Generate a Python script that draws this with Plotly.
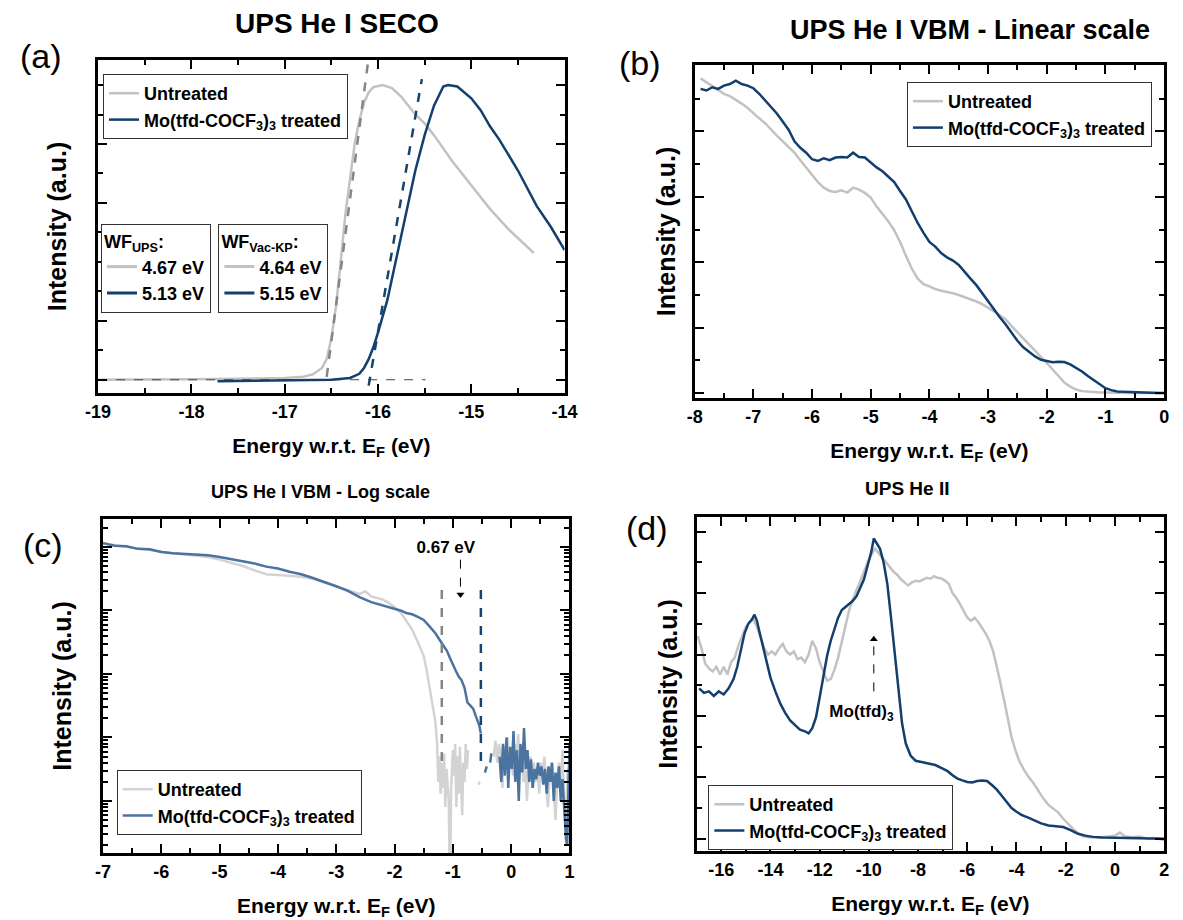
import plotly.graph_objects as go

# ---------------------------------------------------------------- data
# (a) UPS He I secondary-electron cut-off, normalised intensity
seco_untreated_e = [-19.0, -18.5, -18.0, -17.5, -17.0, -16.8, -16.7, -16.6, -16.55, -16.5, -16.45,
                    -16.4, -16.35, -16.3, -16.25, -16.2, -16.15, -16.1, -16.05, -15.95, -15.85,
                    -15.75, -15.6, -15.5, -15.4, -15.2, -15.0, -14.8, -14.6, -14.45, -14.33]
seco_untreated_i = [0.0, 0.0, 0.002, 0.003, 0.006, 0.01, 0.018, 0.04, 0.07, 0.14, 0.25,
                    0.4, 0.56, 0.68, 0.8, 0.88, 0.94, 0.975, 0.993, 1.0, 0.99,
                    0.96, 0.9, 0.87, 0.83, 0.74, 0.66, 0.58, 0.51, 0.465, 0.43]
seco_treated_e = [-17.72, -17.0, -16.5, -16.3, -16.2, -16.15, -16.1, -16.05, -16.0, -15.9, -15.8,
                  -15.7, -15.6, -15.5, -15.4, -15.3, -15.25, -15.15, -15.0, -14.9, -14.8,
                  -14.7, -14.5, -14.3, -14.15, -14.0]
seco_treated_i = [-0.005, -0.003, 0.0, 0.006, 0.02, 0.04, 0.07, 0.11, 0.16, 0.27, 0.42,
                  0.57, 0.71, 0.83, 0.93, 0.995, 1.0, 0.995, 0.955, 0.915, 0.86,
                  0.815, 0.71, 0.59, 0.52, 0.44]
# linear cut-off extrapolations and the zero-intensity baseline
cutoff_untreated_e = [-16.55, -16.11]
cutoff_treated_e = [-16.10, -15.53]
cutoff_untreated_i = [0.01, 1.07]
cutoff_treated_i = [-0.02, 1.02]
baseline_e = [-19.0, -15.49]
baseline_i = [0.0, 0.0]
wf_ups = ["4.67 eV", "5.13 eV"]
wf_kp = ["4.64 eV", "5.15 eV"]

# (b) UPS He I valence band, linear scale
vb_e = [-7.9, -7.8, -7.7, -7.6, -7.5, -7.4, -7.3, -7.2, -7.1, -7.0,
        -6.9, -6.8, -6.7, -6.6, -6.5, -6.4, -6.3, -6.2, -6.1, -6.0,
        -5.9, -5.8, -5.7, -5.6, -5.5, -5.4, -5.3, -5.2, -5.1, -5.0,
        -4.9, -4.8, -4.7, -4.6, -4.5, -4.4, -4.3, -4.2, -4.1, -4.0,
        -3.9, -3.8, -3.7, -3.6, -3.5, -3.4, -3.3, -3.2, -3.1, -3.0,
        -2.9, -2.8, -2.7, -2.6, -2.5, -2.4, -2.3, -2.2, -2.1, -2.0,
        -1.9, -1.8, -1.7, -1.6, -1.5, -1.4, -1.3, -1.2, -1.1, -1.0,
        -0.9, -0.8, -0.7, -0.6, -0.5, -0.4, -0.3, -0.2, -0.1, 0.0]
vb_untreated = [0.962, 0.95, 0.94, 0.928, 0.915, 0.908, 0.897, 0.885, 0.872, 0.855,
                0.84, 0.825, 0.805, 0.787, 0.77, 0.752, 0.735, 0.712, 0.69, 0.665,
                0.645, 0.628, 0.618, 0.615, 0.62, 0.613, 0.628, 0.622, 0.612, 0.598,
                0.57, 0.548, 0.525, 0.498, 0.462, 0.42, 0.38, 0.35, 0.333, 0.326,
                0.318, 0.313, 0.31, 0.305, 0.3, 0.294, 0.287, 0.28, 0.272, 0.262,
                0.25, 0.238, 0.225, 0.205, 0.185, 0.166, 0.148, 0.13, 0.112, 0.092,
                0.072, 0.052, 0.032, 0.02, 0.011, 0.006, 0.004, 0.003, 0.002, 0.002,
                0.001, 0.001, 0.001, 0.0, 0.001, 0.0, 0.0, 0.0, 0.0, 0.0]
vb_treated = [0.93, 0.925, 0.935, 0.93, 0.94, 0.945, 0.955, 0.945, 0.94, 0.932,
              0.915, 0.895, 0.875, 0.855, 0.83, 0.805, 0.77, 0.75, 0.735, 0.715,
              0.71, 0.718, 0.712, 0.72, 0.722, 0.72, 0.735, 0.722, 0.72, 0.705,
              0.69, 0.678, 0.662, 0.645, 0.618, 0.592, 0.556, 0.52, 0.49, 0.462,
              0.448, 0.428, 0.415, 0.405, 0.392, 0.37, 0.35, 0.33, 0.305, 0.28,
              0.255, 0.232, 0.21, 0.183, 0.16, 0.14, 0.125, 0.112, 0.102, 0.097,
              0.094, 0.096, 0.095, 0.088, 0.078, 0.066, 0.052, 0.04, 0.027, 0.015,
              0.009, 0.005, 0.004, 0.003, 0.002, 0.002, 0.001, 0.001, 0.0, 0.0]

# (c) UPS He I valence band edge, log scale (counts)
log_untreated_e = [-7.0, -6.8, -6.6, -6.4, -6.2, -6.0, -5.8, -5.6, -5.4, -5.2, -5.0, -4.8, -4.6,
                   -4.4, -4.2, -4.0, -3.8, -3.6, -3.4, -3.2, -3.0, -2.8, -2.6, -2.5, -2.4, -2.2,
                   -2.1, -2.0, -1.9, -1.8, -1.7, -1.6, -1.5, -1.45, -1.4, -1.35, -1.3,
                   -1.27, -1.25, -1.23, -1.21, -1.19, -1.17, -1.15, -1.13, -1.11, -1.09, -1.07,
                   -1.05, -1.03, -1.0, -0.98, -0.96, -0.94, -0.92, -0.9, -0.88, -0.86, -0.84,
                   -0.82, -0.8, -0.78, -0.76, -0.74, -0.65, -0.56, -0.54, -0.42,
                   -0.3, -0.27, -0.24, -0.21, -0.18, -0.15, -0.12, -0.09, -0.06, -0.03,
                   0.0, 0.03, 0.06, 0.09, 0.12, 0.15, 0.18, 0.21, 0.24, 0.27, 0.3, 0.33,
                   0.36, 0.39, 0.42, 0.45, 0.48, 0.51, 0.54, 0.57, 0.6, 0.63, 0.66, 0.7,
                   0.73, 0.76, 0.79, 0.82, 0.85, 0.88, 0.91, 0.94, 0.97, 1.0]
log_untreated_i = [114800, 107200, 97700, 93300, 89100, 83200, 79400, 75900, 72400, 69200, 63100,
                   56200, 50100, 42700, 37200, 36300, 35500, 33900, 31600, 27500, 24000, 20900,
                   18200, 20000, 16600, 14800, 13200, 11200, 9330, 6920, 5010, 3160, 1910, 1150,
                   631, 355, 178,
                   80, 20, 50, 13, 40, 16, 56, 8, 32, 20, 10,
                   0.3, 16, 63, 25, 79, 8, 50, 13, 71, 16, 6,
                   40, 20, 79, 32, 63, None, 20, 18, None,
                   50, 89, 40, 79, 56, 16, 71, 32, 100, 40,
                   63, 25, 79, 45, 112, 32, 56, 20, 40, 10, 32, 50,
                   16, 40, 20, 35, 13, 40, 25, 50, 16, 8, 25, 40,
                   16, 5, 20, 40, 16, 63, 10, 4, 32, 20]
log_treated_e = [-7.0, -6.8, -6.6, -6.4, -6.2, -6.0, -5.8, -5.6, -5.4, -5.2, -5.0, -4.8, -4.6,
                 -4.4, -4.2, -4.0, -3.8, -3.6, -3.4, -3.2, -3.0, -2.8, -2.6, -2.4, -2.2, -2.1,
                 -2.0, -1.9, -1.8, -1.7, -1.6, -1.5, -1.4, -1.3, -1.2, -1.1, -1.05, -1.0,
                 -0.95, -0.9, -0.85, -0.8, -0.75, -0.7, -0.65, -0.6, -0.55, -0.52,
                 -0.5, -0.45, -0.42, -0.39, -0.36, -0.34, -0.27,
                 -0.2, -0.17, -0.14, -0.11, -0.08, -0.05, -0.02, 0.01, 0.04, 0.07, 0.1,
                 0.13, 0.16, 0.19, 0.22, 0.25, 0.28, 0.31, 0.34, 0.37, 0.4, 0.43, 0.46,
                 0.49, 0.52, 0.55, 0.58, 0.61, 0.64, 0.67, 0.7, 0.73, 0.76, 0.79, 0.82,
                 0.85, 0.88, 0.91, 0.94, 0.96, 0.98, 1.0]
log_treated_i = [114800, 104700, 102300, 93300, 92000, 83200, 79400, 77600, 75900, 74100, 69200,
                 64600, 60300, 55000, 49000, 45700, 40700, 37200, 32400, 28200, 24000, 20400,
                 16200, 13500, 12000, 11500, 10700, 10000, 9120, 8710, 7940, 7080, 5620, 4370,
                 3160, 2290, 1780, 1380, 1120, 912, 794, 603, 355, 316, 282, 209, 158, 115,
                 None, 28, 35, None, 40, 56, None,
                 50, 20, 79, 25, 100, 16, 71, 32, 126, 20, 63,
                 10, 79, 28, 141, 32, 63, 20, 45, 16, 32, 22, 40,
                 25, 35, 18, 32, 13, 35, 20, 40, 10, 28, 16, 35,
                 10, 22, 8, 2.5, 2, 16, 79]
# valence band maximum onsets
vbm_untreated_e = [-1.19, -1.19]
vbm_treated_e = [-0.52, -0.52]
vbm_marker_i = [21000, 41]
shift_arrow_e = [-0.87, -0.87]
shift_arrow_i = [63000, 17800]
shift_label = "0.67 eV"

# (d) UPS He II, normalised intensity
he2_untreated_e = [-16.95, -16.8, -16.65, -16.5, -16.35, -16.2, -16.05, -15.9, -15.75, -15.6, -15.45,
                   -15.3, -15.15, -15.0, -14.85, -14.7, -14.55, -14.4, -14.25, -14.1, -13.95,
                   -13.8, -13.65, -13.5, -13.35, -13.2, -13.05, -12.9, -12.75, -12.6, -12.45,
                   -12.3, -12.15, -12.0, -11.85, -11.7, -11.55, -11.4, -11.25, -11.1, -10.95,
                   -10.8, -10.65, -10.5, -10.35, -10.2, -10.05, -9.9, -9.75, -9.6, -9.45,
                   -9.3, -9.15, -9.0, -8.85, -8.7, -8.55, -8.4, -8.25, -8.1, -7.95,
                   -7.8, -7.65, -7.5, -7.35, -7.2, -7.05, -6.9, -6.75, -6.6, -6.45,
                   -6.3, -6.15, -6.0, -5.85, -5.7, -5.55, -5.4, -5.25, -5.1, -4.95,
                   -4.8, -4.65, -4.5, -4.35, -4.2, -4.05, -3.9, -3.7, -3.5, -3.3,
                   -3.1, -2.9, -2.7, -2.5, -2.3, -2.1, -1.9, -1.7, -1.5, -1.3,
                   -1.1, -0.9, -0.6, -0.3, 0.0, 0.2, 0.4, 0.7, 1.0, 1.3, 1.6, 2.0]
he2_untreated_i = [0.66, 0.62, 0.57, 0.555, 0.545, 0.56, 0.535, 0.56, 0.535, 0.575, 0.59,
                   0.63, 0.66, 0.69, 0.705, 0.715, 0.69, 0.655, 0.62, 0.6, 0.61,
                   0.6, 0.62, 0.635, 0.61, 0.6, 0.61, 0.585, 0.59, 0.575, 0.6,
                   0.645, 0.62, 0.575, 0.545, 0.515, 0.52, 0.55, 0.59, 0.64, 0.7,
                   0.745, 0.78, 0.81, 0.84, 0.875, 0.9, 0.925, 0.945, 0.93, 0.915,
                   0.9, 0.885, 0.87, 0.86, 0.845, 0.835, 0.825, 0.835, 0.84, 0.838,
                   0.845, 0.85, 0.847, 0.855, 0.85, 0.848, 0.84, 0.83, 0.8, 0.785,
                   0.765, 0.742, 0.72, 0.71, 0.72, 0.705, 0.688, 0.668, 0.645, 0.61,
                   0.56, 0.51, 0.45, 0.39, 0.33, 0.29, 0.255, 0.225, 0.2, 0.18,
                   0.155, 0.13, 0.11, 0.098, 0.085, 0.065, 0.048, 0.032, 0.018, 0.008,
                   0.005, 0.006, 0.004, 0.007, 0.01, 0.02, 0.008, 0.005, 0.007, 0.0, 0.002, -0.004]
he2_treated_e = [-16.9, -16.7, -16.5, -16.3, -16.1, -15.9, -15.7, -15.5, -15.35, -15.2, -15.05,
                 -14.9, -14.75, -14.65, -14.55, -14.45, -14.3, -14.15, -14.0, -13.8, -13.6,
                 -13.4, -13.2, -13.0, -12.8, -12.6, -12.45, -12.3, -12.15, -12.0, -11.85,
                 -11.7, -11.55, -11.4, -11.25, -11.1, -10.95, -10.8, -10.65, -10.5, -10.35,
                 -10.2, -10.05, -9.9, -9.8, -9.7, -9.55, -9.4, -9.25, -9.1, -8.95,
                 -8.8, -8.65, -8.5, -8.3, -8.1, -7.9, -7.6, -7.3, -7.0, -6.8,
                 -6.6, -6.4, -6.2, -6.0, -5.8, -5.6, -5.4, -5.2, -5.0, -4.8,
                 -4.6, -4.4, -4.2, -4.0, -3.8, -3.5, -3.2, -3.0, -2.7, -2.4,
                 -2.1, -1.8, -1.5, -1.2, -0.9, -0.5, 0.0, 0.5, 1.0, 1.5, 2.0]
he2_treated_i = [0.49, 0.475, 0.48, 0.465, 0.48, 0.47, 0.49, 0.52, 0.56, 0.615, 0.67,
                 0.7, 0.715, 0.73, 0.71, 0.675, 0.625, 0.575, 0.525, 0.48, 0.44,
                 0.41, 0.385, 0.37, 0.355, 0.35, 0.343, 0.36, 0.395, 0.46, 0.53,
                 0.595, 0.645, 0.685, 0.72, 0.745, 0.755, 0.765, 0.775, 0.79, 0.815,
                 0.845, 0.89, 0.935, 0.978, 0.965, 0.945, 0.9, 0.83, 0.72, 0.6,
                 0.48, 0.375, 0.31, 0.27, 0.254, 0.25, 0.245, 0.24, 0.228, 0.22,
                 0.207, 0.196, 0.19, 0.185, 0.183, 0.188, 0.19, 0.188, 0.175, 0.16,
                 0.14, 0.118, 0.1, 0.088, 0.078, 0.068, 0.058, 0.05, 0.043, 0.04,
                 0.038, 0.028, 0.016, 0.01, 0.006, 0.004, 0.003, 0.002, 0.001, 0.0, 0.0]
mo_arrow_e = [-9.8, -9.8]
mo_arrow_i = [0.48, 0.65]
mo_label_e = [-10.3]
mo_label_i = [0.41]

# x tick positions and labels (plain hyphen minus)
ticks_a = [-19, -18, -17, -16, -15, -14]
ticks_b = [-8, -7, -6, -5, -4, -3, -2, -1, 0]
ticks_c = [-7, -6, -5, -4, -3, -2, -1, 0, 1]
ticks_d = [-16, -14, -12, -10, -8, -6, -4, -2, 0, 2]
labels_a = ["-19", "-18", "-17", "-16", "-15", "-14"]
labels_b = ["-8", "-7", "-6", "-5", "-4", "-3", "-2", "-1", "0"]
labels_c = ["-7", "-6", "-5", "-4", "-3", "-2", "-1", "0", "1"]
labels_d = ["-16", "-14", "-12", "-10", "-8", "-6", "-4", "-2", "0", "2"]

# ---------------------------------------------------------------- style
W, H = 1183, 920
FONT = "Liberation Sans, Arial, sans-serif"
NAVY = "#123f6d"
GREY = "#c2c2c2"
STEEL = "#4b73a0"
PALE = "#d3d3d3"
DASH_GREY = "#858585"
DASH_NAVY = "#16436f"
UNTREATED = "Untreated"
TREATED = "Mo(tfd-COCF<sub>3</sub>)<sub>3</sub> treated"
E_TITLE = "Energy w.r.t. E<sub>F</sub> (eV)"
I_TITLE = "Intensity (a.u.)"


def bold(size):
    return dict(family=FONT, size=size, color="black", weight="bold")


def box(left, top, right, bottom):
    """Pixel box -> paper domains."""
    return [left / W, right / W], [1 - bottom / H, 1 - top / H]


def x_axis(dom, rng, tickvals, ticktext, minor, anchor):
    return dict(domain=dom, range=rng, anchor=anchor, tickmode="array", tickvals=tickvals,
                ticktext=ticktext, showline=True, linewidth=3,
                linecolor="black", mirror="ticks", ticks="inside", ticklen=9, tickwidth=2,
                tickcolor="black", showgrid=False, zeroline=False, tickfont=bold(18),
                minor=dict(dtick=minor, tick0=0, ticks="inside", ticklen=5, tickwidth=2,
                           tickcolor="black", showgrid=False),
                title=dict(text=E_TITLE, font=bold(21), standoff=18))


def y_axis(dom, rng, anchor, standoff, log=False):
    d = dict(domain=dom, range=rng, anchor=anchor, showline=True, linewidth=3, linecolor="black",
             mirror="ticks", ticks="inside", ticklen=9, tickwidth=2, tickcolor="black",
             showgrid=False, zeroline=False, showticklabels=False,
             title=dict(text=I_TITLE, font=bold(25), standoff=standoff))
    if log:
        d.update(type="log", dtick=1,
                 minor=dict(ticks="inside", ticklen=5, tickwidth=1.5, tickcolor="black",
                            showgrid=False))
    else:
        d.update(dtick=0.2, tick0=0,
                 minor=dict(dtick=0.1, ticks="inside", ticklen=5, tickwidth=2,
                            tickcolor="black", showgrid=False))
    return d


def legend_box(left, top, title=None):
    d = dict(x=left / W, y=1 - top / H, xanchor="left", yanchor="top",
             bgcolor="white", bordercolor="#333333", borderwidth=1, font=bold(18),
             tracegroupgap=0, itemwidth=30)
    if title:
        d["title"] = dict(text=title, font=bold(18))
    return d


fig = go.Figure()


def line(x, y, color, width, axes, name=None, legend=None, dash=None):
    fig.add_trace(go.Scatter(
        x=x, y=y, mode="lines", name=name, legend=legend,
        showlegend=name is not None, xaxis=axes[0], yaxis=axes[1],
        line=dict(color=color, width=width, dash=dash), connectgaps=False,
        hoverinfo="skip"))


# (a) SECO
A = ("x", "y")
line(seco_untreated_e, seco_untreated_i, GREY, 2.5, A, UNTREATED, "legend")
line(baseline_e, baseline_i, "#444444", 1, A, dash="dash")
line(seco_treated_e, seco_treated_i, NAVY, 2.5, A, TREATED, "legend")
line(cutoff_untreated_e, cutoff_untreated_i, DASH_GREY, 2.5, A, dash="dash")
line(cutoff_treated_e, cutoff_treated_i, DASH_NAVY, 2.5, A, dash="dash")
# work-function key boxes
line([None], [None], GREY, 3, A, wf_ups[0], "legend5")
line([None], [None], NAVY, 3, A, wf_ups[1], "legend5")
line([None], [None], GREY, 3, A, wf_kp[0], "legend6")
line([None], [None], NAVY, 3, A, wf_kp[1], "legend6")

# (b) VBM linear
B = ("x2", "y2")
line(vb_e, vb_untreated, GREY, 2.5, B, UNTREATED, "legend2")
line(vb_e, vb_treated, NAVY, 2.5, B, TREATED, "legend2")

# (c) VBM log
C = ("x3", "y3")
line(log_untreated_e, log_untreated_i, PALE, 2.5, C, UNTREATED, "legend3")
line(log_treated_e, log_treated_i, STEEL, 2.5, C, TREATED, "legend3")
line(vbm_untreated_e, vbm_marker_i, DASH_GREY, 2.5, C, dash="dash")
line(vbm_treated_e, vbm_marker_i, DASH_NAVY, 2.5, C, dash="dash")
line(shift_arrow_e, shift_arrow_i, "black", 1, C, dash="dash")
fig.add_trace(go.Scatter(x=[shift_arrow_e[1]], y=[shift_arrow_i[1]], mode="markers",
                         marker=dict(symbol="triangle-down", size=7, color="black"),
                         xaxis="x3", yaxis="y3", showlegend=False, hoverinfo="skip"))
fig.add_trace(go.Scatter(x=[-1.12], y=[92000], mode="text", text=[shift_label],
                         textfont=bold(17), xaxis="x3", yaxis="y3", showlegend=False,
                         hoverinfo="skip"))

# (d) He II
D = ("x4", "y4")
line(he2_untreated_e, he2_untreated_i, GREY, 2.5, D, UNTREATED, "legend4")
line(he2_treated_e, he2_treated_i, NAVY, 2.5, D, TREATED, "legend4")
line(mo_arrow_e, mo_arrow_i, "black", 1, D, dash="dash")
fig.add_trace(go.Scatter(x=[mo_arrow_e[1]], y=[mo_arrow_i[1]], mode="markers",
                         marker=dict(symbol="triangle-up", size=7, color="black"),
                         xaxis="x4", yaxis="y4", showlegend=False, hoverinfo="skip"))
fig.add_trace(go.Scatter(x=mo_label_e, y=mo_label_i, mode="text",
                         text=["Mo(tfd)<sub>3</sub>"], textfont=bold(17),
                         xaxis="x4", yaxis="y4", showlegend=False, hoverinfo="skip"))

# ---------------------------------------------------------------- layout
xa, ya = box(87, 60, 564, 393)
xb, yb = box(697, 65, 1177, 398)
xc, yc = box(92, 519, 569, 853)
xd, yd = box(699, 517, 1177, 851)

panel_text = [
    ("UPS He I SECO", 331, 24, 28, True),
    ("UPS He I VBM - Linear scale", 979, 30, 27, True),
    ("UPS He I VBM - Log scale", 314, 492, 18, True),
    ("UPS He II", 914, 488, 19, True),
    ("(a)", 29, 56, 34, False),
    ("(b)", 641, 63, 34, False),
    ("(c)", 31, 545, 34, False),
    ("(d)", 648, 528, 34, False),
]
annotations = []
for text, cx, cy, size, is_bold in panel_text:
    f = bold(size) if is_bold else dict(family=FONT, size=size, color="black")
    annotations.append(dict(text=text, x=cx / W, y=1 - cy / H, xref="paper", yref="paper",
                            xanchor="center", yanchor="middle", showarrow=False, font=f))

fig.update_layout(
    width=W, height=H, margin=dict(l=0, r=0, t=0, b=0),
    plot_bgcolor="white", paper_bgcolor="white", font=dict(family=FONT, color="black"),
    xaxis=x_axis(xa, [-19, -14], ticks_a, labels_a, 0.5, "y"),
    yaxis=y_axis(ya, [-0.045, 1.085], "x", 22),
    xaxis2=x_axis(xb, [-8, 0], ticks_b, labels_b, 0.5, "y2"),
    yaxis2=y_axis(yb, [-0.015, 1.003], "x2", 9),
    xaxis3=x_axis(xc, [-7, 1], ticks_c, labels_c, 0.5, "y3"),
    yaxis3=y_axis(yc, [0.18, 5.44], "x3", 22, log=True),
    xaxis4=x_axis(xd, [-17, 2], ticks_d, labels_d, 1, "y4"),
    yaxis4=y_axis(yd, [-0.04, 1.048], "x4", 9),
    legend=legend_box(92, 74),
    legend2=legend_box(914, 82),
    legend3=legend_box(106, 770),
    legend4=legend_box(711, 785),
    legend5=legend_box(90, 224, "WF<sub>UPS</sub>:"),
    legend6=legend_box(210, 224, "WF<sub>Vac-KP</sub>:"),
    annotations=annotations,
    showlegend=True,
)

fig.write_html("out.html")
